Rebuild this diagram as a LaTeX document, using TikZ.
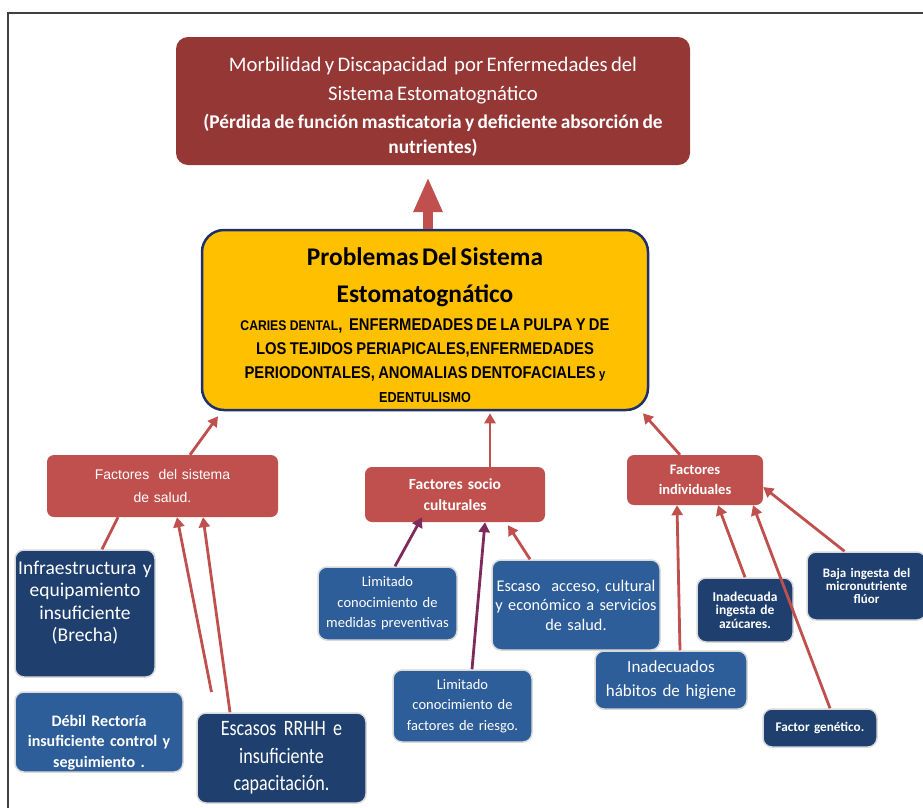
\documentclass[tikz,border=0pt]{standalone}
\usepackage{fontspec}
\setmainfont{Carlito}
\newfontfamily\narrowfont[FakeStretch=0.87]{Liberation Sans}
\newfontfamily\arialfont{Liberation Sans}
\newfontfamily\condfont[FakeStretch=0.82]{Carlito}
\usetikzlibrary{arrows.meta}
\definecolor{topred}{HTML}{953735}
\definecolor{facred}{HTML}{C0504D}
\definecolor{gold}{HTML}{FFC000}
\definecolor{navy}{HTML}{1F3F6F}
\definecolor{midblue}{HTML}{2E5E9A}
\definecolor{purp}{HTML}{7E2B5C}
\definecolor{yelborder}{HTML}{1F2F6A}
\definecolor{framegray}{HTML}{404040}
\tikzset{
  frameline/.style={draw=framegray, line width=1.6pt},
  anybox/.style={rectangle, inner sep=2pt, align=center},
  topbox/.style={anybox, fill=topred, text=white, rounded corners=12pt},
  yelbox/.style={anybox, fill=gold, draw=yelborder, line width=2.5pt, text=black, rounded corners=22pt},
  facbox/.style={anybox, fill=facred, text=white, rounded corners=7pt},
  navybox/.style={anybox, fill=navy, text=white, draw=black!15, line width=1.5pt, rounded corners=9pt},
  midbox/.style={anybox, fill=midblue, text=white, draw=black!15, line width=1.5pt, rounded corners=9pt},
  bigarrow/.style={draw=facred, line width=10pt, -{Triangle[length=35pt,width=27pt]}},
  arr/.style={draw=facred, line width=2.8pt, -{Triangle[length=10pt,width=11pt]}},
  plainline/.style={draw=facred, line width=2.8pt},
  parr/.style={arr, draw=purp},
}
\begin{document}
\begin{tikzpicture}[x=1pt,y=-1pt]
\useasboundingbox (0,0) rectangle (923,807);
\draw[frameline] (925,13) -- (8,13) -- (8,809);

% top box
\node[topbox, minimum width=514pt, minimum height=128pt, text width=508pt] (morb) at (433,101)
  {\fontsize{20.7}{29}\selectfont\rule{0pt}{25pt}Morbilidad y Discapacidad\ \ por Enfermedades del\par
   \fontsize{20.7}{29}\selectfont Sistema Estomatognático\par
   \fontsize{19.4}{28}\selectfont\bfseries (Pérdida de función masticatoria y deficiente absorción de\par
   \fontsize{19.4}{25}\selectfont nutrientes)\par};

% yellow box
\node[yelbox, minimum width=446pt, minimum height=180pt, text width=440pt] (prob) at (425,320)
  {\fontsize{25.4}{30}\selectfont\bfseries\rule{0pt}{28pt}Problemas Del Sistema\par
   \fontsize{25.4}{37}\selectfont Estomatognático\par
   \fontsize{17}{28}\selectfont\narrowfont\bfseries {\fontsize{14}{28}\selectfont CARIES DENTAL},\ \ ENFERMEDADES DE LA PULPA Y DE\par
   \fontsize{17}{24}\selectfont LOS TEJIDOS PERIAPICALES,ENFERMEDADES\par
   PERIODONTALES, ANOMALIAS DENTOFACIALES {\fontsize{13}{24}\selectfont y}\par
   \fontsize{14.5}{24}\selectfont EDENTULISMO\par};

% factor boxes
\node[facbox, minimum width=231pt, minimum height=62pt, text width=225pt,
      font={\fontsize{14}{23}\selectfont\arialfont}] (fsal) at (162.5,486)
  {Factores\ \ del sistema\\ de salud.};
\node[facbox, minimum width=180pt, minimum height=55pt, text width=174pt,
      font={\fontsize{15.5}{21}\selectfont\bfseries}] (fsoc) at (455,494.5)
  {Factores socio\\ culturales};
\node[facbox, minimum width=136pt, minimum height=50pt, text width=130pt,
      font={\fontsize{14.5}{20}\selectfont\bfseries}] (find) at (695,480)
  {Factores\\ individuales};

% connector partly hidden behind the infrastructure box
\draw[arr] ([xshift=49pt]fsal.south |- 0,692) -- ([xshift=14.5pt]fsal.south);

% left group
\node[navybox, minimum width=140pt, minimum height=127pt, text width=136pt,
      font={\fontsize{19.5}{22.5}\selectfont}] (infra) at (85,613.5)
  {Infraestructura y\\ equipamiento\\ insuficiente\\ (Brecha)\par\vspace*{22pt}};
\node[midbox, minimum width=168pt, minimum height=80pt, text width=164pt,
      font={\fontsize{16}{20.5}\selectfont\bfseries}] (debil) at (99,732)
  {\rule{0pt}{32pt}Débil Rectoría\\ insuficiente control y\\ seguimiento .};
\node[navybox, minimum width=169pt, minimum height=90pt, text width=165pt,
      font={\fontsize{22}{27.5}\selectfont\condfont}] (escasos) at (281.5,758)
  {Escasos\ RRHH e\\ insuficiente\\ capacitación.};

% middle group
\node[midbox, minimum width=139pt, minimum height=73pt, text width=135pt,
      font={\fontsize{14.5}{20.5}\selectfont}] (medidas) at (387.5,603.5)
  {Limitado\\ conocimiento de\\ medidas preventivas};
\node[midbox, minimum width=168pt, minimum height=90pt, text width=164pt,
      font={\fontsize{16.3}{19.5}\selectfont}] (acceso) at (576,605)
  {Escaso\ \ acceso, cultural\\ y económico a servicios\\ de salud.};
\node[midbox, minimum width=139pt, minimum height=72pt, text width=135pt,
      font={\fontsize{14.5}{20.5}\selectfont}] (riesgo) at (462.5,706)
  {Limitado\\ conocimiento de\\ factores de riesgo.};

% right group
\node[midbox, minimum width=152pt, minimum height=58pt, text width=148pt,
      font={\fontsize{17}{24}\selectfont}] (habitos) at (671,680)
  {Inadecuados\\ hábitos de higiene};
\node[navybox, minimum width=96pt, minimum height=64pt, text width=92pt,
      font={\fontsize{13.5}{13.5}\selectfont\bfseries}] (azucar) at (745,610)
  {Inadecuada\\ ingesta de\\ azúcares.};
\node[navybox, minimum width=119pt, minimum height=68pt, text width=115pt,
      font={\fontsize{13}{13}\selectfont\bfseries}] (baja) at (866.5,586)
  {Baja ingesta del\\ micronutriente\\ flúor};
\node[navybox, minimum width=114pt, minimum height=38pt, text width=110pt,
      font={\fontsize{13.2}{14}\selectfont\bfseries}] (genetico) at (820,728)
  {Factor genético.};

% big arrow to the top box
\draw[bigarrow] ([xshift=3pt]prob.north) -- ([xshift=3pt,yshift=-12pt]prob.north |- morb.south);

% factor boxes to the central box
\draw[arr] ([xshift=27.5pt]fsal.north) -- ([xshift=-207pt,yshift=-5pt]prob.south);
\draw[arr] ([xshift=35pt]fsoc.north) -- ([xshift=35pt,yshift=-2pt]fsoc.north |- prob.south);
\draw[arr] ([xshift=-15pt]find.north) -- ([xshift=218pt,yshift=-2pt]prob.south);

% left group connectors
\draw[plainline] ([xshift=17pt]infra.north) -- ([xshift=-44.5pt]fsal.south);
\draw[arr] ([xshift=-51.5pt]escasos.north) -- ([xshift=40.5pt]fsal.south);

% middle group connectors
\draw[parr] ([xshift=7.5pt]medidas.north) -- ([xshift=-33pt,yshift=5pt]fsoc.south);
\draw[parr] ([xshift=9.5pt]riesgo.north) -- ([xshift=30pt]fsoc.south);
\draw[arr] ([xshift=-46pt]acceso.north) -- ([xshift=53pt,yshift=-3pt]fsoc.south);

% right group connectors
\draw[arr] ([xshift=9pt]habitos.north) -- ([xshift=-18pt]find.south);
\draw[arr] (azucar.north) -- ([xshift=23pt]find.south);
\draw[arr] ([xshift=10pt]genetico.north) -- ([xshift=58pt]find.south);
\draw[arr] ([xshift=-22pt]baja.north) -- ([yshift=-7pt]find.east);
\end{tikzpicture}
\end{document}
